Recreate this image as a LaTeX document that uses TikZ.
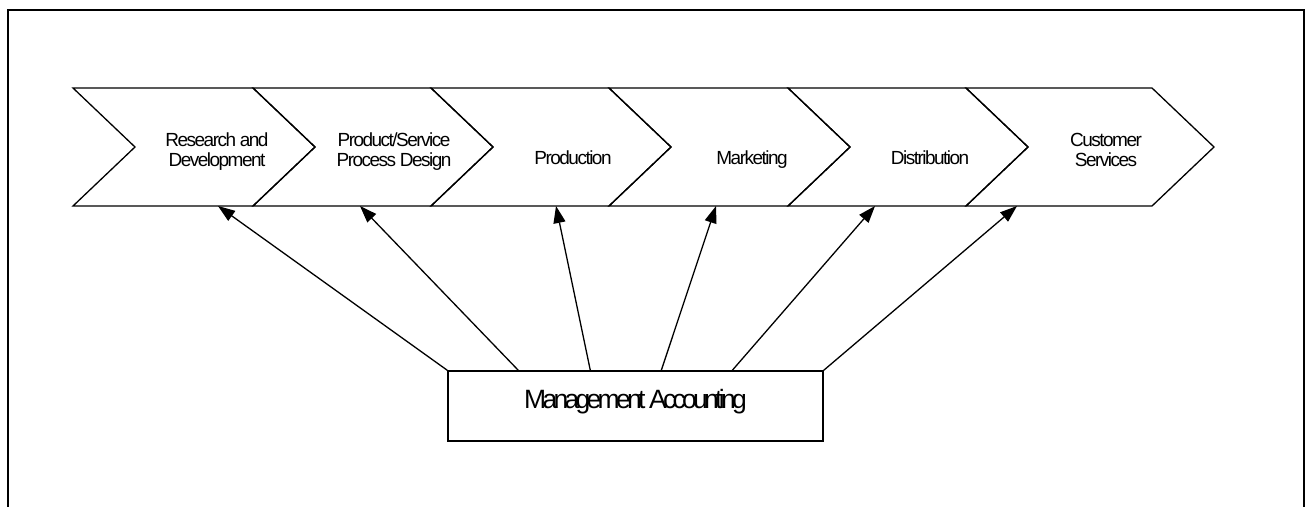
\documentclass[tikz,border=0pt]{standalone}
\usepackage{fontspec}
\setmainfont{Liberation Sans}
\newfontfamily\chevfont[LetterSpace=-8]{Liberation Sans}
\newfontfamily\boxfont[LetterSpace=-14]{Liberation Sans}
\usetikzlibrary{arrows.meta}
\begin{document}
\begin{tikzpicture}[x=1pt,y=-1pt,
  frame/.style={line width=2pt},
  chevron/.style={draw, line width=1.3pt, line join=miter},
  stagelabel/.style={font=\chevfont\fontsize{19}{20}\selectfont, align=center, inner sep=0pt},
  mabox/.style={draw, line width=1.4pt, minimum width=375pt, minimum height=70pt,
    inner sep=0pt, text height=19pt, text depth=15pt,
    font=\boxfont\fontsize{26.5}{30}\selectfont},
  link/.style={line width=1.3pt, -{Triangle[length=17pt,width=12pt]}}]
\useasboundingbox (0,0) rectangle (1308,506);
\clip (0,0) rectangle (1308,506);

% open frame around the figure
\draw[frame] (7.5,520) -- (7.5,9.5) -- (1304,9.5) -- (1304,520);

% value chain chevrons
\foreach \a/\b in {73/253,253/431,431/609,609/788,788/966,966/1152} {
  \draw[chevron] (\a,88) -- (\b,88) -- (\b+62,147) -- (\b,206) -- (\a,206) -- (\a+62,147) -- cycle;
}

% stage labels (base = baseline of the last line)
\node[stagelabel, anchor=base] (rd)   at (217,166) {Research and\\Development};
\node[stagelabel, anchor=base] (psd)  at (394,166) {Product/Service\\Process Design};
\node[stagelabel, anchor=base] (prod) at (573,164) {Production};
\node[stagelabel, anchor=base] (mkt)  at (752,164) {Marketing};
\node[stagelabel, anchor=base] (dist) at (930,164) {Distribution};
\node[stagelabel, anchor=base] (cs)   at (1106,166) {Customer\\Services};

% arrow targets on the lower edge of the chevrons
\coordinate (t1) at (218,206);
\coordinate (t2) at (360,206);
\coordinate (t3) at (556,206);
\coordinate (t4) at (716,206);
\coordinate (t5) at (875,206);
\coordinate (t6) at (1017,206);

% management accounting box
\node[mabox] (ma) at (635.5,406) {Management Accounting};

\coordinate (s1) at (ma.north west);
\coordinate (s2) at ([xshift=71pt]ma.north west);
\coordinate (s3) at ([xshift=143pt]ma.north west);
\coordinate (s4) at ([xshift=214pt]ma.north west);
\coordinate (s5) at ([xshift=285pt]ma.north west);
\coordinate (s6) at (ma.north east);

\foreach \i in {1,...,6} {
  \draw[link] (s\i) -- (t\i);
}
\end{tikzpicture}
\end{document}
